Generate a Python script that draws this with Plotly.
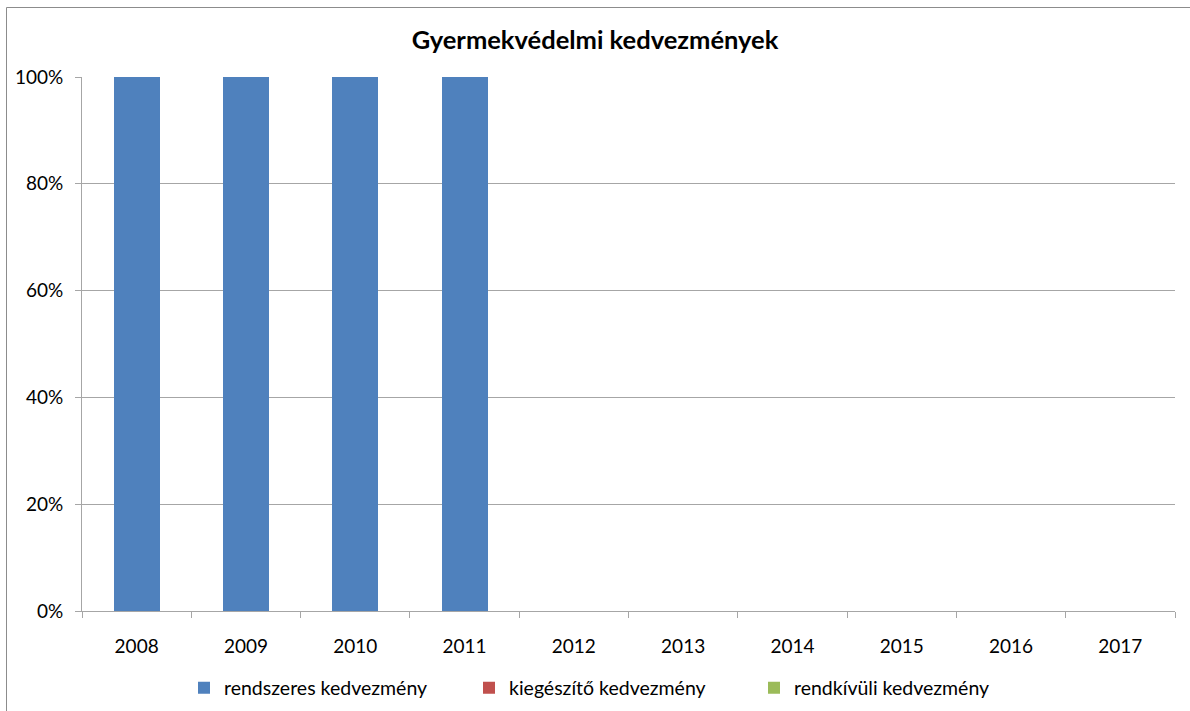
import plotly.graph_objects as go

years = ["2008", "2009", "2010", "2011", "2012", "2013", "2014", "2015", "2016", "2017"]
rendszeres = [100, 100, 100, 100, 0, 0, 0, 0, 0, 0]
kiegeszito = [0, 0, 0, 0, 0, 0, 0, 0, 0, 0]
rendkivuli = [0, 0, 0, 0, 0, 0, 0, 0, 0, 0]
series_names = ["rendszeres kedvezmény", "kiegészítő kedvezmény", "rendkívüli kedvezmény"]
colors = ["#4F81BD", "#C0504D", "#9BBB59"]
y_ticks = [0, 20, 40, 60, 80, 100]
y_labels = ["0%", "20%", "40%", "60%", "80%", "100%"]

W, H = 1190, 711
ml, mr, mt, mb = 82, 15, 77, 100
pw, ph = W - ml - mr, H - mt - mb

fig = go.Figure()
for name, vals, c in zip(series_names, [rendszeres, kiegeszito, rendkivuli], colors):
    fig.add_trace(go.Bar(x=years, y=vals, name=name, marker=dict(color=c, line=dict(width=0))))

font_family = "Lato, 'Open Sans', sans-serif"

def px_to_paper_x(px):
    return (px - ml) / pw

def px_to_paper_y(py):
    return (H - mb - py) / ph

fig.update_layout(
    width=W, height=H,
    margin=dict(l=ml, r=mr, t=mt, b=mb, autoexpand=False),
    barmode="stack",
    bargap=0.58,
    plot_bgcolor="white",
    paper_bgcolor="white",
    font=dict(family=font_family, size=19, color="#000000"),
    title=dict(text="<b>Gyermekvédelmi kedvezmények</b>", x=0.5, xanchor="center",
               xref="container",
               y=1 - 40 / H, yanchor="middle", font=dict(size=25.5, family=font_family)),
    legend=dict(orientation="h", x=px_to_paper_x(184), xanchor="left", y=px_to_paper_y(688),
                yanchor="middle", font=dict(size=19.5), itemwidth=30, traceorder="normal",
                entrywidth=240, entrywidthmode="pixels"),
    xaxis=dict(showline=True, linecolor="#A6A6A6", linewidth=1, ticks="outside",
               tickson="boundaries", ticklen=6, tickcolor="#A6A6A6", showgrid=False,
               tickfont=dict(size=19), ticklabelstandoff=18),
    yaxis=dict(range=[0, 100], tickvals=y_ticks, ticktext=y_labels, showline=True,
               linecolor="#A6A6A6", linewidth=1, ticks="outside", ticklen=6, tickcolor="#A6A6A6",
               showgrid=True, gridcolor="#A6A6A6", gridwidth=1, zeroline=False,
               tickfont=dict(size=19), ticklabelstandoff=8),
    shapes=[dict(type="rect", xref="paper", yref="paper",
                 x0=px_to_paper_x(6.5), x1=px_to_paper_x(1300),
                 y0=px_to_paper_y(800), y1=px_to_paper_y(7.5),
                 line=dict(color="#8C8C8C", width=1), fillcolor="rgba(0,0,0,0)", layer="below")],
)

fig.write_html("out.html", config={"displayModeBar": False},
               post_script="document.body.style.margin='0';document.body.style.overflow='hidden';document.documentElement.style.overflow='hidden';")
